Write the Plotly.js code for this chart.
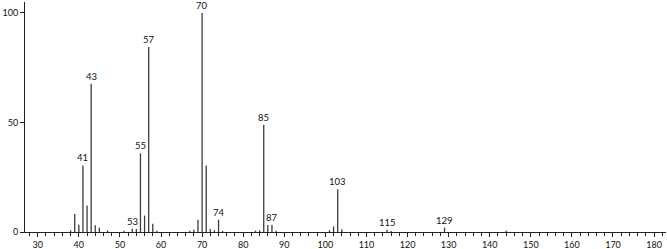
<!DOCTYPE html>
<html>
<head>
<meta charset="utf-8">
<script src="https://cdn.plot.ly/plotly-3.0.1.min.js"></script>
<style>html,body{margin:0;padding:0;background:#fff;}#chart{width:667px;height:249px;}</style>
</head>
<body>
<div id="chart"></div>
<script>
// m/z values and relative intensities
var mz = [38, 39, 40, 41, 42, 43, 44, 45, 47, 51, 53, 54, 55, 56, 57, 58, 59,
          67, 68, 69, 70, 71, 72, 73, 74, 75, 83, 84, 85, 86, 87, 88,
          101, 102, 103, 104, 115, 116, 129, 144];
var intensity = [0.8, 8.2, 3.3, 30.4, 12.1, 67.7, 3.1, 2.0, 0.7, 0.6, 1.5, 1.4, 35.9, 7.5, 84.5, 3.8, 0.6,
          0.6, 1.0, 5.6, 100, 30.4, 1.4, 0.8, 5.6, 0.5, 0.6, 0.8, 49.0, 3.2, 3.3, 0.6,
          0.8, 2.5, 19.5, 1.3, 1.0, 0.4, 2.0, 0.6];
// peaks carrying a label
var labeled = [41, 43, 53, 55, 57, 70, 74, 85, 87, 103, 115, 129];
var xTicks = [30, 40, 50, 60, 70, 80, 90, 100, 110, 120, 130, 140, 150, 160, 170, 180];
var yTicks = [0, 50, 100];

var fontFam = 'Lato, "DejaVu Sans", sans-serif';
var annotations = labeled.map(function (m) {
  var i = mz.indexOf(m);
  return {
    x: m, y: intensity[i], xref: 'x', yref: 'y', text: String(m),
    showarrow: false, yanchor: 'bottom', xanchor: 'center', yshift: 0,
    font: {family: fontFam, size: 9.5, color: '#111'}
  };
});

// stick spectrum: each peak drawn as a vertical line segment from 0 to its intensity
var sx = [], sy = [];
mz.forEach(function (m, i) { sx.push(m, m, null); sy.push(0, intensity[i], null); });
var trace = {
  type: 'scatter', mode: 'lines', x: sx, y: sy,
  line: {color: '#3c3c3c', width: 1.3},
  hoverinfo: 'skip', cliponaxis: true
};

var layout = {
  width: 667, height: 249,
  margin: {l: 25, r: 1, t: 2, b: 17},
  paper_bgcolor: '#fff', plot_bgcolor: '#fff',
  showlegend: false,
  font: {family: fontFam, size: 9, color: '#111'},
  xaxis: {
    range: [26.9, 182.9], tickvals: xTicks, ticktext: xTicks.map(String),
    ticks: 'outside', ticklen: 4, tickwidth: 1, tickcolor: '#222',
    showline: true, linecolor: '#222', linewidth: 1,
    showgrid: false, zeroline: false,
    minor: {dtick: 2, tick0: 0, ticks: 'outside', ticklen: 2.5, tickwidth: 1, tickcolor: '#222', showgrid: false},
    tickfont: {size: 9}
  },
  yaxis: {
    range: [0, 105], tickvals: yTicks, ticktext: yTicks.map(String),
    ticks: 'outside', ticklen: 4, tickwidth: 1, tickcolor: '#222',
    showline: true, linecolor: '#222', linewidth: 1,
    showgrid: false, zeroline: false,
    tickfont: {size: 9}
  },
  annotations: annotations
};

Plotly.newPlot('chart', [trace], layout, {displayModeBar: false, staticPlot: true});
</script>
</body>
</html>
